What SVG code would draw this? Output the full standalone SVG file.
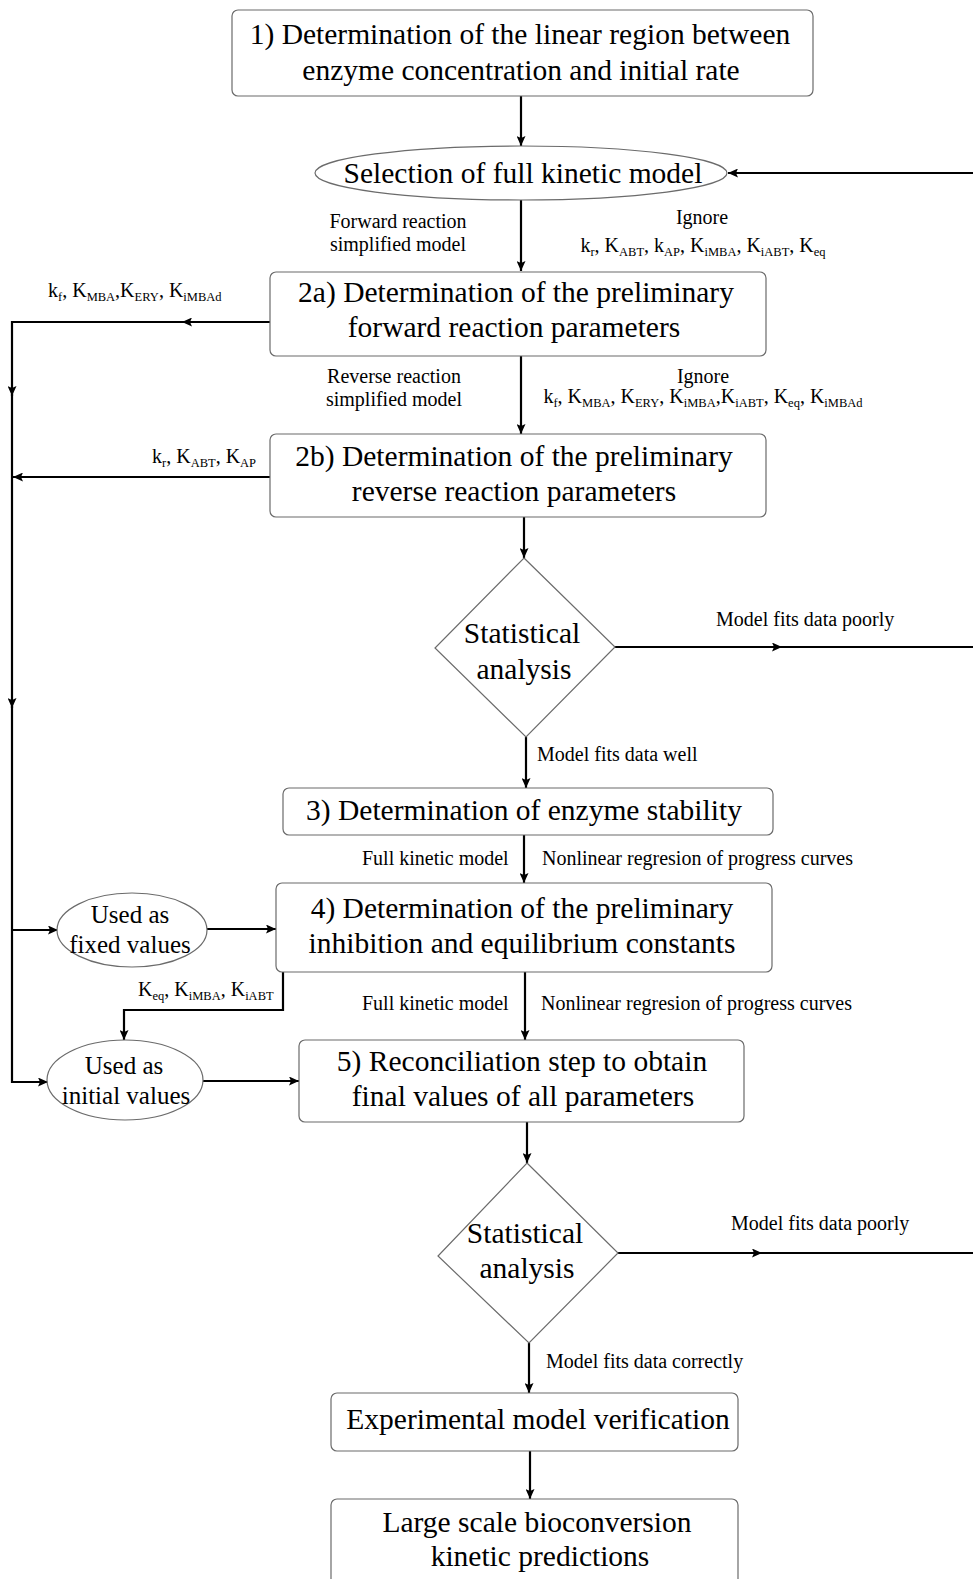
<svg xmlns="http://www.w3.org/2000/svg" width="973" height="1579" viewBox="0 0 973 1579">
  <style>
    .box { fill: #ffffff; stroke: #6b6b6b; stroke-width: 1.2; }
    .main { font-family: "Liberation Serif", "Times New Roman", serif; font-size: 29.5px; fill: #000; text-anchor: middle; }
    .ell { font-family: "Liberation Serif", "Times New Roman", serif; font-size: 25px; fill: #000; text-anchor: middle; }
    .lbl { font-family: "Liberation Serif", "Times New Roman", serif; font-size: 20px; fill: #000; }
    .mid { text-anchor: middle; }
    .s { font-size: 12.5px; }
    .wire { fill: none; stroke: #000; stroke-width: 2.2; }
    .arr { marker-end: url(#head); }
  </style>
  <defs>
    <marker id="head" markerUnits="userSpaceOnUse" markerWidth="11" markerHeight="9" refX="10" refY="4.5" orient="auto">
      <path d="M0,0 L10,4.5 L0,9 L2,4.5 z" fill="#000"/>
    </marker>
  </defs>
  <rect width="973" height="1579" fill="#ffffff"/>

  <!-- connectors -->
  <g id="connectors">
    <!-- main vertical flow -->
    <line class="wire arr" x1="521" y1="96" x2="521" y2="146"/>
    <line class="wire arr" x1="521" y1="200" x2="521" y2="271"/>
    <line class="wire arr" x1="521" y1="356" x2="521" y2="434"/>
    <line class="wire arr" x1="524" y1="517" x2="524" y2="558"/>
    <line class="wire arr" x1="526" y1="737" x2="526" y2="788"/>
    <line class="wire arr" x1="524" y1="835" x2="524" y2="883"/>
    <line class="wire arr" x1="525" y1="972" x2="525" y2="1040"/>
    <line class="wire arr" x1="527" y1="1122" x2="527" y2="1163"/>
    <line class="wire arr" x1="529" y1="1343" x2="529" y2="1393"/>
    <line class="wire arr" x1="530" y1="1451" x2="530" y2="1499"/>

    <!-- feedback into model selection -->
    <line class="wire arr" x1="973" y1="173" x2="728" y2="173"/>
    <line class="wire arr" x1="615" y1="647" x2="782" y2="647"/>
    <line class="wire" x1="780" y1="647" x2="973" y2="647"/>
    <line class="wire arr" x1="618" y1="1253" x2="762" y2="1253"/>
    <line class="wire" x1="760" y1="1253" x2="973" y2="1253"/>

    <!-- parameter bus on the left -->
    <line class="wire arr" x1="270" y1="322" x2="182" y2="322"/>
    <line class="wire" x1="184" y1="322" x2="12" y2="322"/>
    <line class="wire arr" x1="12" y1="321" x2="12" y2="396"/>
    <line class="wire arr" x1="12" y1="394" x2="12" y2="708"/>
    <line class="wire" x1="12" y1="706" x2="12" y2="1083"/>
    <line class="wire arr" x1="270" y1="477" x2="13" y2="477"/>
    <line class="wire arr" x1="12" y1="930" x2="58" y2="930"/>
    <line class="wire arr" x1="11" y1="1082" x2="48" y2="1082"/>
    <line class="wire arr" x1="207" y1="929" x2="276" y2="929"/>
    <line class="wire arr" x1="203" y1="1081" x2="299" y2="1081"/>
    <polyline class="wire arr" points="283,972 283,1010 124,1010 124,1040"/>
  </g>

  <g id="n1">
    <rect class="box" x="232" y="10" width="581" height="86" rx="6"/>
    <text class="main" x="520" y="44">1) Determination of the linear region between</text>
    <text class="main" x="521" y="80">enzyme concentration and initial rate</text>
  </g>

  <g id="model-select">
    <ellipse class="box" cx="521" cy="173" rx="206" ry="27"/>
    <text class="main" x="523" y="183">Selection of full kinetic model</text>
  </g>

  <g id="lbl-forward">
    <text class="lbl mid" x="398" y="228">Forward reaction</text>
    <text class="lbl mid" x="398" y="251">simplified model</text>
    <text class="lbl mid" x="702" y="224">Ignore</text>
    <text class="lbl mid" x="703" y="252">k<tspan class="s" dy="4">r</tspan><tspan dy="-4">, K</tspan><tspan class="s" dy="4">ABT</tspan><tspan dy="-4">, k</tspan><tspan class="s" dy="4">AP</tspan><tspan dy="-4">, K</tspan><tspan class="s" dy="4">iMBA</tspan><tspan dy="-4">, K</tspan><tspan class="s" dy="4">iABT</tspan><tspan dy="-4">, K</tspan><tspan class="s" dy="4">eq</tspan></text>
    <text class="lbl" x="48" y="297">k<tspan class="s" dy="4">f</tspan><tspan dy="-4">, K</tspan><tspan class="s" dy="4">MBA</tspan><tspan dy="-4">,K</tspan><tspan class="s" dy="4">ERY</tspan><tspan dy="-4">, K</tspan><tspan class="s" dy="4">iMBAd</tspan></text>
  </g>

  <g id="n2a">
    <rect class="box" x="270" y="272" width="496" height="84" rx="6"/>
    <text class="main" x="516" y="302">2a) Determination of the preliminary</text>
    <text class="main" x="514" y="337">forward reaction parameters</text>
  </g>

  <g id="lbl-reverse">
    <text class="lbl mid" x="394" y="383">Reverse reaction</text>
    <text class="lbl mid" x="394" y="406">simplified model</text>
    <text class="lbl mid" x="703" y="383">Ignore</text>
    <text class="lbl mid" x="703" y="403">k<tspan class="s" dy="4">f</tspan><tspan dy="-4">, K</tspan><tspan class="s" dy="4">MBA</tspan><tspan dy="-4">, K</tspan><tspan class="s" dy="4">ERY</tspan><tspan dy="-4">, K</tspan><tspan class="s" dy="4">iMBA</tspan><tspan dy="-4">,K</tspan><tspan class="s" dy="4">iABT</tspan><tspan dy="-4">, K</tspan><tspan class="s" dy="4">eq</tspan><tspan dy="-4">, K</tspan><tspan class="s" dy="4">iMBAd</tspan></text>
    <text class="lbl" x="152" y="463">k<tspan class="s" dy="4">r</tspan><tspan dy="-4">, K</tspan><tspan class="s" dy="4">ABT</tspan><tspan dy="-4">, K</tspan><tspan class="s" dy="4">AP</tspan></text>
  </g>

  <g id="n2b">
    <rect class="box" x="270" y="434" width="496" height="83" rx="6"/>
    <text class="main" x="514" y="466">2b) Determination of the preliminary</text>
    <text class="main" x="514" y="501">reverse reaction parameters</text>
  </g>

  <g id="stat1">
    <polygon class="box" points="524,558 615,647 526,737 435,648"/>
    <text class="main" x="522" y="643">Statistical</text>
    <text class="main" x="524" y="679">analysis</text>
    <text class="lbl" x="716" y="626">Model fits data poorly</text>
    <text class="lbl" x="537" y="761">Model fits data well</text>
  </g>

  <g id="n3">
    <rect class="box" x="283" y="788" width="490" height="47" rx="6"/>
    <text class="main" x="524" y="820">3) Determination of enzyme stability</text>
  </g>

  <g id="lbl-34">
    <text class="lbl" x="362" y="865">Full kinetic model</text>
    <text class="lbl" x="542" y="865">Nonlinear regresion of progress curves</text>
  </g>

  <g id="fixed">
    <ellipse class="box" cx="132" cy="930" rx="75" ry="37"/>
    <text class="ell" x="130" y="923">Used as</text>
    <text class="ell" x="130" y="953">fixed values</text>
  </g>

  <g id="n4">
    <rect class="box" x="276" y="883" width="496" height="89" rx="6"/>
    <text class="main" x="522" y="918">4) Determination of the preliminary</text>
    <text class="main" x="522" y="953">inhibition and equilibrium constants</text>
  </g>

  <g id="lbl-45">
    <text class="lbl" x="138" y="996">K<tspan class="s" dy="4">eq</tspan><tspan dy="-4">, K</tspan><tspan class="s" dy="4">iMBA</tspan><tspan dy="-4">, K</tspan><tspan class="s" dy="4">iABT</tspan></text>
    <text class="lbl" x="362" y="1010">Full kinetic model</text>
    <text class="lbl" x="541" y="1010">Nonlinear regresion of progress curves</text>
  </g>

  <g id="initial">
    <ellipse class="box" cx="125" cy="1080" rx="78" ry="40"/>
    <text class="ell" x="124" y="1074">Used as</text>
    <text class="ell" x="126" y="1104">initial values</text>
  </g>

  <g id="n5">
    <rect class="box" x="299" y="1040" width="445" height="82" rx="6"/>
    <text class="main" x="522" y="1071">5) Reconciliation step to obtain</text>
    <text class="main" x="523" y="1106">final values of all parameters</text>
  </g>

  <g id="stat2">
    <polygon class="box" points="527,1163 618,1253 529,1343 438,1256"/>
    <text class="main" x="525" y="1243">Statistical</text>
    <text class="main" x="527" y="1278">analysis</text>
    <text class="lbl" x="731" y="1230">Model fits data poorly</text>
    <text class="lbl" x="546" y="1368">Model fits data correctly</text>
  </g>

  <g id="verify">
    <rect class="box" x="331" y="1393" width="407" height="58" rx="6"/>
    <text class="main" x="538" y="1429">Experimental model verification</text>
  </g>

  <g id="predict">
    <rect class="box" x="331" y="1499" width="407" height="100" rx="6"/>
    <text class="main" x="537" y="1532">Large scale bioconversion</text>
    <text class="main" x="540" y="1566">kinetic predictions</text>
  </g>
</svg>
